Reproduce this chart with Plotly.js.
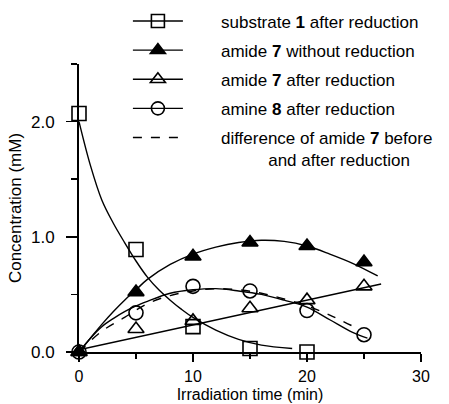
<!DOCTYPE html>
<html>
<head>
<meta charset="utf-8">
<script src="https://cdn.plot.ly/plotly-3.0.1.min.js"></script>
<style>html,body{margin:0;padding:0;background:#fff;}#chart{width:449px;height:404px;}</style>
</head>
<body>
<div id="chart"></div>
<script>
// measured points
const timeMin = [0, 5, 10, 15, 20, 25];
const substrateTime = [0, 5, 10, 15, 20];
const substrate1 = [2.07, 0.89, 0.22, 0.03, 0.0];
const amide7NoRed = [0, 0.52, 0.83, 0.95, 0.92, 0.78];
const amide7Red = [0, 0.20, 0.27, 0.38, 0.45, 0.57];
const amine8Red = [0, 0.34, 0.57, 0.53, 0.36, 0.15];

// fitted curves
const subFitX = [0, 1, 2, 3, 4, 5, 6, 7, 8, 9, 10, 12, 14, 16, 18.7];
const subFitY = [2.0, 1.62, 1.32, 1.12, 0.95, 0.79, 0.65, 0.54, 0.45, 0.37, 0.30, 0.19, 0.11, 0.06, 0.03];
const noRedFitX = [0, 1, 2, 3, 4, 5, 6, 8, 10, 12, 14, 16, 18, 20, 22, 24, 26.2];
const noRedFitY = [0, 0.12, 0.24, 0.35, 0.45, 0.54, 0.63, 0.76, 0.85, 0.91, 0.95, 0.97, 0.96, 0.92, 0.85, 0.77, 0.66];
const redFitX = [0, 26.5];
const redFitY = [0.02, 0.59];
const amineFitX = [0, 1, 2, 3, 4, 5, 6, 8, 10, 12, 14, 16, 18, 20, 22, 24, 25.3];
const amineFitY = [0, 0.12, 0.22, 0.29, 0.35, 0.40, 0.44, 0.51, 0.54, 0.55, 0.53, 0.50, 0.45, 0.39, 0.28, 0.17, 0.12];
const diffFitX = [0, 2, 4, 6, 8, 10, 12, 14, 16, 18, 20, 22, 23.9];
const diffFitY = [0, 0.18, 0.30, 0.42, 0.49, 0.53, 0.55, 0.54, 0.51, 0.46, 0.40, 0.32, 0.23];

const xTicks = [0, 10, 20, 30];
const xTickText = ['0', '10', '20', '30'];
const xMinorTicks = [5, 15, 25];
const yTicks = [0, 1, 2];
const yTickText = ['0.0', '1.0', '2.0'];
const yMinorTicks = [0.5, 1.5, 2.5];

const pad = (n) => '\u00a0'.repeat(n);
const legendNames = [
  pad(7) + 'substrate <b>1</b> after reduction',
  pad(7) + 'amide <b>7</b> without reduction',
  pad(7) + 'amide <b>7</b> after reduction',
  pad(7) + 'amine <b>8</b> after reduction',
  pad(7) + 'difference of amide <b>7</b> before<br>' + pad(17) + 'and after reduction'
];

const K = 'black';
const lineW = 1.4;
const symbols = ['square-open', 'triangle-up', 'triangle-up-open', 'circle-open'];
const sizes = [14, 14, 14, 14];

function lineTrace(x, y, dash) {
  return {x: x, y: y, mode: 'lines', line: {color: K, width: lineW, shape: 'spline', dash: dash || 'solid'}, showlegend: false, cliponaxis: false, hoverinfo: 'skip'};
}
function markTrace(x, y, i) {
  return {x: x, y: y, mode: 'markers', marker: {symbol: symbols[i], size: sizes[i], color: K, line: {color: K, width: 1.6}}, showlegend: false, cliponaxis: false};
}
function legTrace(i) {
  const t = {x: [null], y: [null], mode: i < 4 ? 'lines+markers' : 'lines', name: legendNames[i], legendgroup: 'g' + i,
    line: {color: K, width: lineW, dash: i < 4 ? 'solid' : 'dash'}, showlegend: true};
  if (i < 4) t.marker = {symbol: symbols[i], size: 13, color: K, line: {color: K, width: 1.6}};
  return t;
}

const data = [
  lineTrace(subFitX, subFitY),
  lineTrace(noRedFitX, noRedFitY),
  lineTrace(redFitX, redFitY),
  lineTrace(amineFitX, amineFitY),
  lineTrace(diffFitX, diffFitY, 'dash'),
  markTrace(substrateTime, substrate1, 0),
  markTrace(timeMin, amide7NoRed, 1),
  markTrace(timeMin, amide7Red, 2),
  markTrace(timeMin, amine8Red, 3),
  legTrace(0), legTrace(1), legTrace(2), legTrace(3), legTrace(4)
];

const axisCommon = {showline: true, linecolor: K, linewidth: 2, ticks: 'outside', tickcolor: K, tickwidth: 1.5,
  showgrid: false, zeroline: false, tickmode: 'array', fixedrange: true, automargin: false};

const layout = {
  width: 449, height: 404,
  margin: {l: 79, r: 28, t: 64, b: 52, autoexpand: false},
  paper_bgcolor: 'white', plot_bgcolor: 'white',
  font: {family: 'Liberation Sans, Arial, sans-serif', size: 17, color: K},
  showlegend: true,
  legend: {x: 0.143, y: 1.21, xanchor: 'left', yanchor: 'top', traceorder: 'grouped', tracegroupgap: 4,
    itemwidth: 50, valign: 'top', bgcolor: 'rgba(0,0,0,0)', font: {size: 17, color: K}},
  xaxis: Object.assign({}, axisCommon, {range: [0, 30], tickvals: xTicks, ticktext: xTickText, ticklen: 8, ticklabelstandoff: 1,
    tickfont: {size: 16},
    minor: {tickvals: xMinorTicks, ticks: 'outside', ticklen: 5, tickwidth: 1.5, tickcolor: K, showgrid: false},
    title: {text: 'Irradiation time (min)', standoff: 5, font: {size: 16}}}),
  yaxis: Object.assign({}, axisCommon, {range: [0, 2.5], tickvals: yTicks, ticktext: yTickText, ticklen: 11, ticklabelstandoff: 8,
    minor: {tickvals: yMinorTicks, ticks: 'outside', ticklen: 6, tickwidth: 1.5, tickcolor: K, showgrid: false},
    title: {text: 'Concentration (mM)', standoff: 5, font: {size: 17}}})
};

Plotly.newPlot('chart', data, layout, {displayModeBar: false, staticPlot: true});
</script>
</body>
</html>
